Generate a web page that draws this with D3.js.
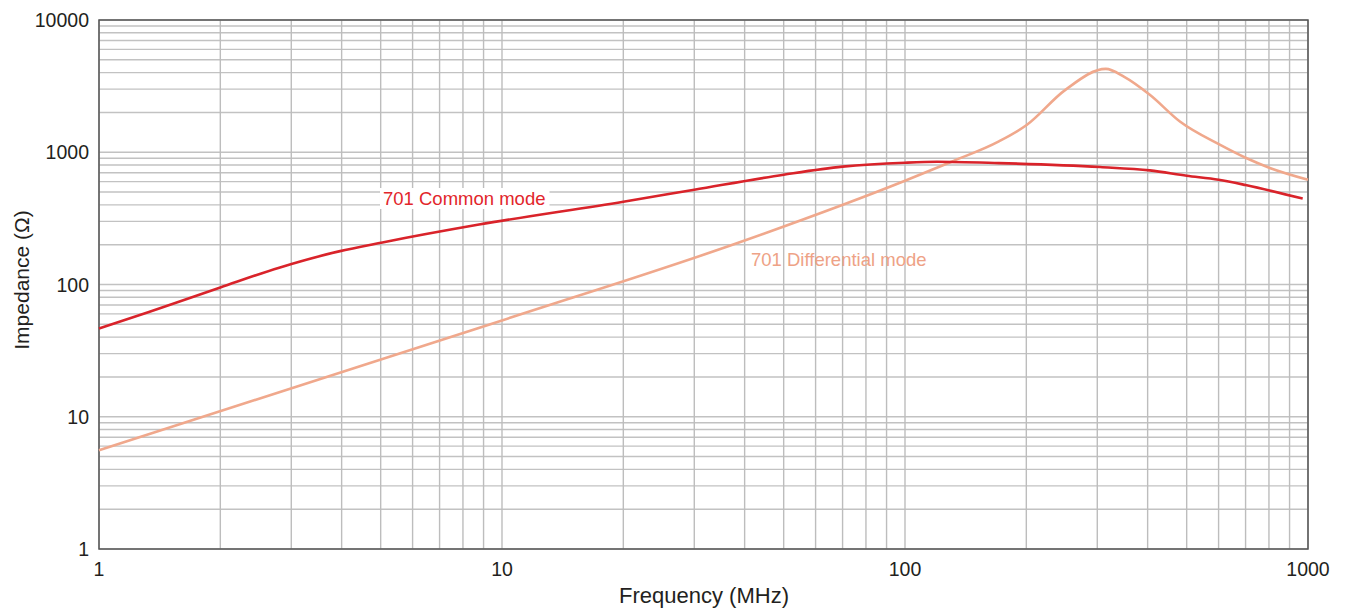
<!DOCTYPE html>
<html>
<head>
<meta charset="utf-8">
<script src="https://cdn.jsdelivr.net/npm/d3@7"></script>
<style>
body{margin:0;background:#fff;}
svg{font-family:"Liberation Sans",Arial,sans-serif;}
</style>
</head>
<body>
<svg width="1348" height="610"></svg>
<script>
// data
var cmFreq = [1, 1.33, 2, 2.8, 3.94, 5.05, 8.77, 20, 30, 50, 70, 100, 120, 171, 305, 405, 500, 600, 700, 970];
var cmZ    = [46.5, 62, 95, 134, 178, 208, 284, 423, 521, 676, 778, 834, 847, 828, 773, 729, 665, 620, 565, 446];
var dmFreq = [1, 10, 40, 100, 130, 171, 200, 250, 315, 350, 405, 481, 604, 700, 804, 1000];
var dmZ    = [5.58, 53.5, 215, 609, 845, 1208, 1600, 2965, 4270, 3715, 2717, 1706, 1140, 908, 761, 620];
var xTicks = [1, 10, 100, 1000];
var yTicks = [1, 10, 100, 1000, 10000];

var svg = d3.select('svg');
var L = 99, R = 1308, T = 20, B = 549;

var x = d3.scaleLog().domain([1, 1000]).range([L, R]);
var y = d3.scaleLog().domain([1, 10000]).range([B, T]);

// minor + major grid
var xGrid = [], yGrid = [];
for (var d = 1; d < 1000; d *= 10) for (var k = 1; k < 10; k++) xGrid.push(d * k);
xGrid.push(1000);
for (var d = 1; d < 10000; d *= 10) for (var k = 1; k < 10; k++) yGrid.push(d * k);
yGrid.push(10000);

svg.append('g').selectAll('line').data(yGrid).enter().append('line')
  .attr('x1', L).attr('x2', R)
  .attr('y1', function(v){return y(v);}).attr('y2', function(v){return y(v);})
  .attr('stroke', '#c2c2c2').attr('stroke-width', 1.4);
svg.append('g').selectAll('line').data(xGrid).enter().append('line')
  .attr('y1', T).attr('y2', B)
  .attr('x1', function(v){return x(v);}).attr('x2', function(v){return x(v);})
  .attr('stroke', '#bdbdbd').attr('stroke-width', 1.4);

// frame
svg.append('rect').attr('x', L).attr('y', T).attr('width', R - L).attr('height', B - T)
  .attr('fill', 'none').attr('stroke', '#555').attr('stroke-width', 1.5);

// tick labels
svg.append('g').selectAll('text').data(yTicks).enter().append('text')
  .attr('x', L - 10).attr('y', function(v){return y(v) + 7;})
  .attr('text-anchor', 'end').attr('font-size', 19.5).attr('fill', '#231f20')
  .text(function(v){return v;});
svg.append('g').selectAll('text').data(xTicks).enter().append('text')
  .attr('x', function(v){return x(v);}).attr('y', B + 27)
  .attr('text-anchor', 'middle').attr('font-size', 19.5).attr('fill', '#231f20')
  .text(function(v){return v;});

svg.append('text').attr('x', 704).attr('y', 603).attr('text-anchor', 'middle')
  .attr('font-size', 22).attr('fill', '#231f20').text('Frequency (MHz)');
svg.append('text').attr('transform', 'translate(29,280) rotate(-90)')
  .attr('text-anchor', 'middle').attr('font-size', 21).attr('fill', '#231f20').text('Impedance (Ω)');

var line = d3.line().curve(d3.curveMonotoneX)
  .x(function(d){return x(d[0]);}).y(function(d){return y(d[1]);});

svg.append('path').datum(d3.zip(dmFreq, dmZ)).attr('d', line)
  .attr('fill', 'none').attr('stroke', '#f0a88c').attr('stroke-width', 2.6);
svg.append('path').datum(d3.zip(cmFreq, cmZ)).attr('d', line)
  .attr('fill', 'none').attr('stroke', '#d9232a').attr('stroke-width', 2.6);

// labels
var lab = svg.append('g');
var bg = lab.append('rect').attr('fill', '#fff');
var t1 = lab.append('text').attr('x', 383).attr('y', 205).attr('font-size', 18.5)
  .attr('fill', '#e2262b').text('701 Common mode');
var bb = t1.node().getBBox();
bg.attr('x', bb.x - 3).attr('y', bb.y).attr('width', bb.width + 7).attr('height', bb.height);
lab.append('text').attr('x', 751).attr('y', 266).attr('font-size', 18.5)
  .attr('fill', '#eea286').text('701 Differential mode');
</script>
</body>
</html>
